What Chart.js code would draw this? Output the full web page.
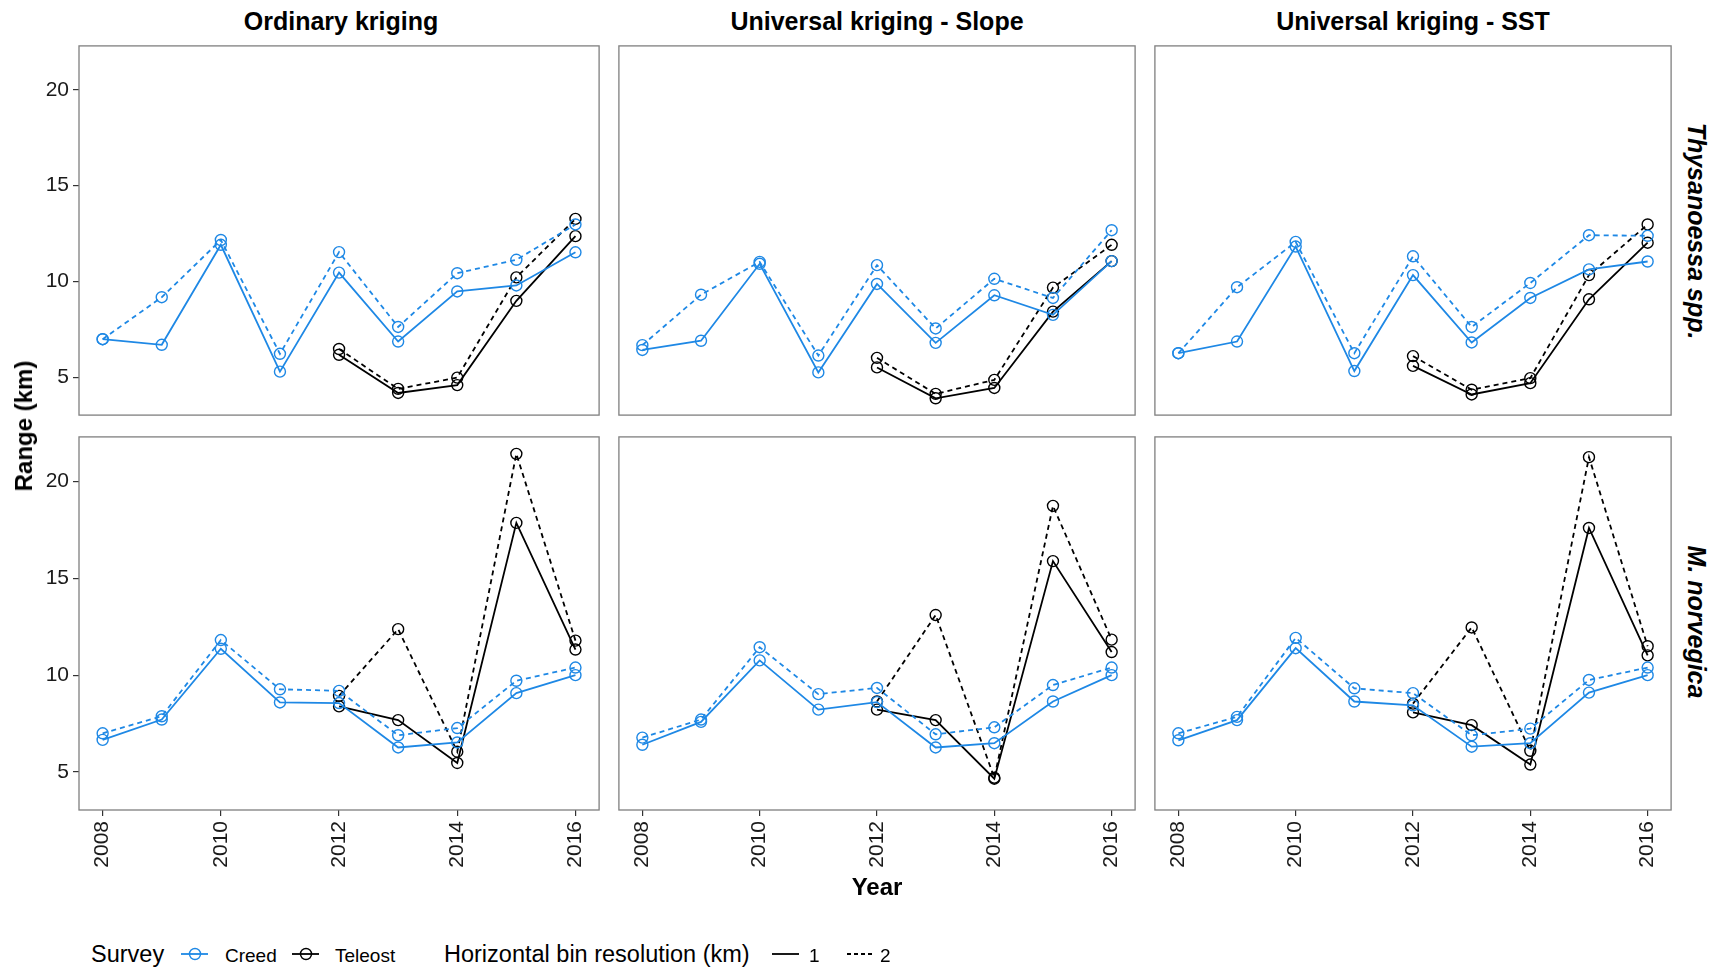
<!DOCTYPE html>
<html>
<head>
<meta charset="utf-8">
<title>Range by year</title>
<script src="https://cdn.jsdelivr.net/npm/chart.js@4.4.1/dist/chart.umd.min.js"></script>
<style>
  html, body { margin: 0; padding: 0; background: #fff; }
  body { width: 1719px; height: 970px; position: relative; overflow: hidden;
         font-family: "Liberation Sans", Arial, sans-serif; color: #000; }
  .panel { position: absolute; }
  .panel canvas { display: block; }
  .lbl { position: absolute; line-height: 1; white-space: nowrap; transform: translate(-50%, -50%); }
  .leg { position: absolute; line-height: 1; white-space: nowrap; transform: translateY(-50%); }
  .key { position: absolute; }
</style>
</head>
<body>
<script>
// categories
const years = [2008, 2009, 2010, 2011, 2012, 2013, 2014, 2015, 2016];
const teleostYears = [2012, 2013, 2014, 2015, 2016];
const xTicks = [2008, 2010, 2012, 2014, 2016];
const yTicks = [5, 10, 15, 20];
const methods = ['Ordinary kriging', 'Universal kriging - Slope', 'Universal kriging - SST'];
const species = ['Thysanoessa spp.', 'M. norvegica'];

// Thysanoessa spp. (1 = 1 km bin, 2 = 2 km bin)
const ordThyCreed1 = [7.00, 6.71, 11.92, 5.31, 10.47, 6.88, 9.49, 9.80, 11.53];
const ordThyCreed2 = [7.00, 9.19, 12.17, 6.24, 11.54, 7.64, 10.44, 11.14, 12.98];
const ordThyTeleost1 = [6.19, 4.20, 4.61, 9.00, 12.37];
const ordThyTeleost2 = [6.49, 4.41, 5.00, 10.22, 13.27];

const slpThyCreed1 = [6.44, 6.92, 10.93, 5.27, 9.88, 6.81, 9.29, 8.27, 11.07];
const slpThyCreed2 = [6.69, 9.32, 11.03, 6.15, 10.86, 7.56, 10.15, 9.15, 12.68];
const slpThyTeleost1 = [5.53, 3.92, 4.46, 8.44, 11.07];
const slpThyTeleost2 = [6.03, 4.15, 4.88, 9.69, 11.92];

const sstThyCreed1 = [6.27, 6.88, 11.83, 5.34, 10.34, 6.83, 9.15, 10.64, 11.05];
const sstThyCreed2 = [6.27, 9.71, 12.07, 6.27, 11.32, 7.64, 9.93, 12.42, 12.39];
const sstThyTeleost1 = [5.61, 4.12, 4.71, 9.08, 12.03];
const sstThyTeleost2 = [6.12, 4.37, 4.97, 10.34, 12.98];

// M. norvegica
const ordNorCreed1 = [6.66, 7.71, 11.36, 8.59, 8.56, 6.27, 6.53, 9.07, 10.00];
const ordNorCreed2 = [7.00, 7.88, 11.81, 9.27, 9.19, 6.90, 7.27, 9.71, 10.39];
const ordNorTeleost1 = [8.39, 7.68, 5.47, 17.85, 11.32];
const ordNorTeleost2 = [8.93, 12.37, 6.05, 21.41, 11.78];

const slpNorCreed1 = [6.41, 7.59, 10.76, 8.22, 8.61, 6.27, 6.49, 8.64, 10.00];
const slpNorCreed2 = [6.78, 7.71, 11.44, 9.02, 9.34, 6.95, 7.31, 9.49, 10.39];
const slpNorTeleost1 = [8.22, 7.68, 4.66, 15.88, 11.19];
const slpNorTeleost2 = [8.64, 13.10, 4.71, 18.73, 11.83];

const sstNorCreed1 = [6.64, 7.68, 11.39, 8.64, 8.44, 6.31, 6.49, 9.10, 10.00];
const sstNorCreed2 = [7.00, 7.85, 11.92, 9.32, 9.07, 6.90, 7.24, 9.75, 10.39];
const sstNorTeleost1 = [8.08, 7.42, 5.39, 17.59, 11.02];
const sstNorTeleost2 = [8.53, 12.46, 6.10, 21.24, 11.49];

const panels = [
  [
    [ordThyCreed1, ordThyCreed2, ordThyTeleost1, ordThyTeleost2],
    [slpThyCreed1, slpThyCreed2, slpThyTeleost1, slpThyTeleost2],
    [sstThyCreed1, sstThyCreed2, sstThyTeleost1, sstThyTeleost2]
  ],
  [
    [ordNorCreed1, ordNorCreed2, ordNorTeleost1, ordNorTeleost2],
    [slpNorCreed1, slpNorCreed2, slpNorTeleost1, slpNorTeleost2],
    [sstNorCreed1, sstNorCreed2, sstNorTeleost1, sstNorTeleost2]
  ]
];

// layout
const colLeft = [79, 615, 1151];
const rowTop = [42, 433];
const panelW = 524, panelH = 377;
const yAxisW = 79, xAxisH = 72, pad = 3;
const blue = '#1E88E5', black = '#000000';
const dash = [5, 4];
const fontFamily = '"Liberation Sans", Arial, sans-serif';

// shared ranges with ggplot-style 5% expansion
const allY = panels.flat(3);
const yLo = Math.min(...allY), yHi = Math.max(...allY);
const yMin = yLo - 0.05 * (yHi - yLo), yMax = yHi + 0.05 * (yHi - yLo);
const xSpan = years[years.length - 1] - years[0];
const xMin = years[0] - 0.05 * xSpan;
const xMax = years[years.length - 1] + 0.05 * xSpan;

const panelBorder = {
  id: 'panelBorder',
  afterDraw(chart) {
    const { left, top, right, bottom } = chart.chartArea;
    const ctx = chart.ctx;
    ctx.save();
    ctx.strokeStyle = '#7f7f7f';
    ctx.lineWidth = 1.3;
    ctx.strokeRect(left, top, right - left, bottom - top);
    ctx.restore();
  }
};

function noPadding(s) {
  s.paddingTop = 0; s.paddingBottom = 0; s.paddingLeft = 0; s.paddingRight = 0;
}

function series(xs, ys, color, borderDash) {
  return {
    data: ys.map((y, i) => ({ x: xs[i], y })),
    borderColor: color,
    borderWidth: 1.8,
    borderDash,
    tension: 0,
    fill: false,
    pointStyle: 'circle',
    pointRadius: 5.5,
    pointBorderWidth: 1.4,
    pointBorderColor: color,
    pointBackgroundColor: 'rgba(0,0,0,0)'
  };
}

function makePanel(row, col) {
  const showY = col === 0, showX = row === 1;
  const [c1, c2, t1, t2] = panels[row][col];
  const left = colLeft[col] - (showY ? yAxisW : pad);
  const top = rowTop[row] - pad;
  const w = panelW + (showY ? yAxisW : pad) + pad;
  const h = panelH + pad + (showX ? xAxisH : pad);

  const div = document.createElement('div');
  div.className = 'panel';
  div.style.left = left + 'px';
  div.style.top = top + 'px';
  div.style.width = w + 'px';
  div.style.height = h + 'px';
  const canvas = document.createElement('canvas');
  canvas.width = w;
  canvas.height = h;
  div.appendChild(canvas);
  document.body.appendChild(div);

  const tickFont = { family: fontFamily, size: 21 };
  new Chart(canvas, {
    type: 'line',
    data: {
      datasets: [
        series(years, c1, blue, []),
        series(years, c2, blue, dash),
        series(teleostYears, t1, black, []),
        series(teleostYears, t2, black, dash)
      ]
    },
    options: {
      responsive: false,
      animation: false,
      devicePixelRatio: 1,
      events: [],
      layout: { padding: { left: showY ? 0 : pad, right: pad, top: pad, bottom: showX ? 0 : pad } },
      plugins: { legend: { display: false }, tooltip: { enabled: false } },
      scales: {
        x: {
          type: 'linear',
          min: xMin, max: xMax,
          display: showX,
          afterBuildTicks: s => { s.ticks = xTicks.map(v => ({ value: v })); },
          afterFit: s => { if (showX) s.height = xAxisH; noPadding(s); },
          grid: { drawOnChartArea: false, drawTicks: true, tickLength: 6, color: '#333', lineWidth: 1.2 },
          border: { display: false },
          ticks: { font: tickFont, color: '#1a1a1a', minRotation: 90, maxRotation: 90, padding: 5,
                   autoSkip: false, callback: v => String(v) }
        },
        y: {
          type: 'linear',
          min: yMin, max: yMax,
          display: showY,
          afterBuildTicks: s => { s.ticks = yTicks.map(v => ({ value: v })); },
          afterFit: s => { if (showY) s.width = yAxisW; noPadding(s); },
          grid: { drawOnChartArea: false, drawTicks: true, tickLength: 6, color: '#333', lineWidth: 1.2 },
          border: { display: false },
          ticks: { font: tickFont, color: '#1a1a1a', padding: 4, callback: v => String(v) }
        }
      }
    },
    plugins: [panelBorder]
  });
}

for (let r = 0; r < 2; r++) {
  for (let c = 0; c < 3; c++) makePanel(r, c);
}

// text
function label(text, x, y, css, cls) {
  const el = document.createElement('div');
  el.className = cls || 'lbl';
  el.textContent = text;
  el.style.left = x + 'px';
  el.style.top = y + 'px';
  el.style.cssText += css;
  document.body.appendChild(el);
  return el;
}

methods.forEach((m, c) => {
  label(m, colLeft[c] + panelW / 2, 21, 'font-size:25px;font-weight:bold;');
});
species.forEach((s, r) => {
  label(s, 1696, rowTop[r] + panelH / 2,
    'font-size:25px;font-weight:bold;font-style:italic;transform:translate(-50%,-50%) rotate(90deg);');
});
label('Range (km)', 24, 426, 'font-size:24px;font-weight:bold;transform:translate(-50%,-50%) rotate(-90deg);');
label('Year', colLeft[1] + panelW / 2, 887, 'font-size:24px;font-weight:bold;');

// legend
const legY = 955;
label('Survey', 91, legY, 'font-size:23.5px;', 'leg');
label('Creed', 225, legY, 'font-size:19px;', 'leg');
label('Teleost', 335, legY, 'font-size:19px;', 'leg');
label('Horizontal bin resolution (km)', 444, legY, 'font-size:23.5px;', 'leg');
label('1', 809, legY, 'font-size:19px;', 'leg');
label('2', 880, legY, 'font-size:19px;', 'leg');

function key(x, color, dashed, circle) {
  const ns = 'http://www.w3.org/2000/svg';
  const svg = document.createElementNS(ns, 'svg');
  svg.setAttribute('width', 28);
  svg.setAttribute('height', 20);
  svg.setAttribute('class', 'key');
  svg.style.left = x + 'px';
  svg.style.top = (legY - 11) + 'px';
  const line = document.createElementNS(ns, 'line');
  line.setAttribute('x1', 0); line.setAttribute('x2', 27);
  line.setAttribute('y1', 10); line.setAttribute('y2', 10);
  line.setAttribute('stroke', color);
  line.setAttribute('stroke-width', 1.8);
  if (dashed) line.setAttribute('stroke-dasharray', '4 3');
  svg.appendChild(line);
  if (circle) {
    const ci = document.createElementNS(ns, 'circle');
    ci.setAttribute('cx', 14); ci.setAttribute('cy', 10); ci.setAttribute('r', 5.5);
    ci.setAttribute('fill', 'none');
    ci.setAttribute('stroke', color);
    ci.setAttribute('stroke-width', 1.4);
    svg.appendChild(ci);
  }
  document.body.appendChild(svg);
}
key(181, blue, false, true);
key(292, black, false, true);
key(772, black, false, false);
key(847, black, true, false);
</script>
</body>
</html>
